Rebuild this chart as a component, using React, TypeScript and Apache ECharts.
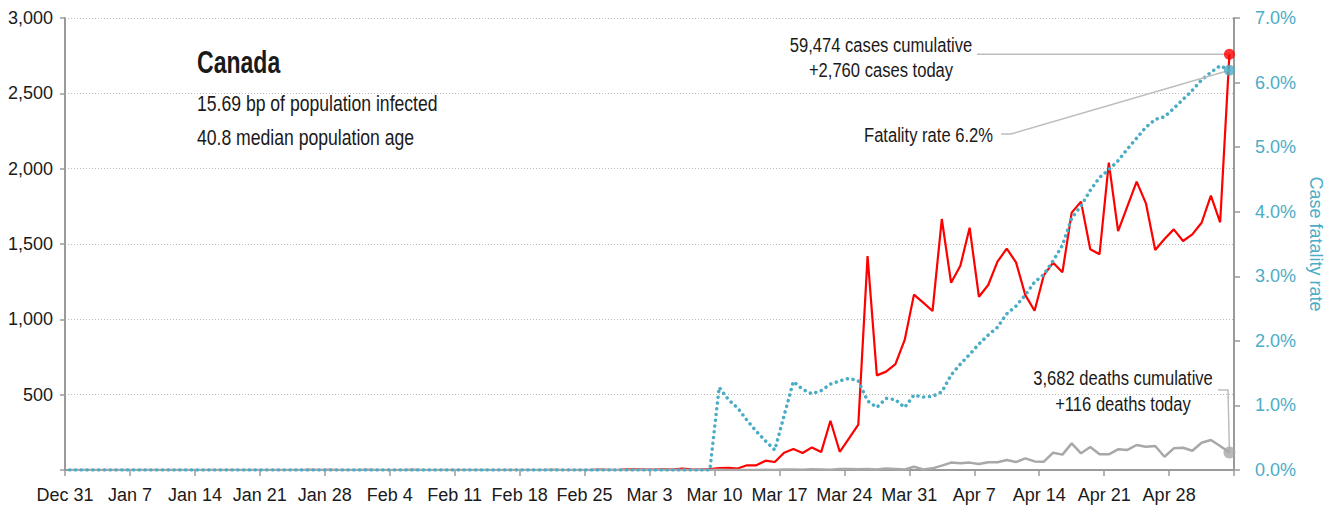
import React, { useEffect, useRef } from 'react';
import * as echarts from 'echarts';

// Tick labels every 7 days starting Dec 31 (day 0)
const TICK_LABELS = [
  'Dec 31', 'Jan 7', 'Jan 14', 'Jan 21', 'Jan 28', 'Feb 4', 'Feb 11', 'Feb 18', 'Feb 25',
  'Mar 3', 'Mar 10', 'Mar 17', 'Mar 24', 'Mar 31', 'Apr 7', 'Apr 14', 'Apr 21', 'Apr 28',
];

// Daily new cases, Dec 31 .. May 4 (one row per week)
const CASES = [
  0, 0, 0, 0, 0, 0, 0,
  0, 0, 0, 0, 0, 0, 0,
  0, 0, 0, 0, 0, 0, 0,
  0, 0, 0, 0, 0, 1, 0,
  1, 0, 0, 0, 1, 0, 0,
  0, 0, 1, 0, 0, 0, 0,
  0, 0, 0, 0, 0, 0, 0,
  0, 0, 0, 1, 0, 0, 0,
  0, 2, 1, 0, 4, 4, 3,
  3, 5, 3, 9, 5, 2, 6,
  12, 15, 10, 31, 31, 62, 53,
  115, 139, 113, 150, 119, 327, 121,
  210, 301, 1420, 628, 653, 703, 863,
  1164, 1111, 1055, 1666, 1243, 1356, 1608,
  1150, 1228, 1383, 1469, 1378, 1161, 1057,
  1294, 1376, 1312, 1708, 1781, 1465, 1432,
  2040, 1586, 1750, 1914, 1770, 1460, 1533,
  1597, 1520, 1564, 1641, 1821, 1644, 2760,
];

// Daily new deaths
const DEATHS = [
  0, 0, 0, 0, 0, 0, 0,
  0, 0, 0, 0, 0, 0, 0,
  0, 0, 0, 0, 0, 0, 0,
  0, 0, 0, 0, 0, 0, 0,
  0, 0, 0, 0, 0, 0, 0,
  0, 0, 0, 0, 0, 0, 0,
  0, 0, 0, 0, 0, 0, 0,
  0, 0, 0, 0, 0, 0, 0,
  0, 0, 0, 0, 0, 0, 0,
  0, 0, 0, 0, 0, 0, 0,
  1, 0, 0, 0, 0, 1, 0,
  3, 4, 1, 5, 4, 2, 7,
  6, 5, 6, 4, 10, 7, 3,
  22, 4, 11, 29, 49, 44, 49,
  40, 51, 51, 66, 53, 77, 57,
  55, 115, 102, 177, 111, 153, 104,
  104, 137, 133, 166, 155, 159, 88,
  144, 148, 128, 181, 199, 159, 116,
];

// Case fatality rate, %
const CFR = [
  0, 0, 0, 0, 0, 0, 0,
  0, 0, 0, 0, 0, 0, 0,
  0, 0, 0, 0, 0, 0, 0,
  0, 0, 0, 0, 0, 0, 0,
  0, 0, 0, 0, 0, 0, 0,
  0, 0, 0, 0, 0, 0, 0,
  0, 0, 0, 0, 0, 0, 0,
  0, 0, 0, 0, 0, 0, 0,
  0, 0, 0, 0, 0, 0, 0,
  0, 0, 0, 0, 0, 0, 0,
  1.28, 1.09, 0.96, 0.77, 0.6, 0.45, 0.31,
  0.84, 1.37, 1.25, 1.18, 1.23, 1.33, 1.38,
  1.42, 1.38, 1.07, 0.97, 1.11, 1.09, 0.97,
  1.16, 1.13, 1.14, 1.21, 1.47, 1.64, 1.79,
  1.95, 2.09, 2.21, 2.42, 2.54, 2.71, 2.91,
  3.03, 3.24, 3.48, 3.9, 4.09, 4.33, 4.53,
  4.65, 4.79, 4.97, 5.14, 5.31, 5.43, 5.47,
  5.6, 5.74, 5.88, 6.04, 6.16, 6.26, 6.19,
];

const COUNTRY = 'Canada';
const INFO_LINES = ['15.69 bp of population infected', '40.8 median population age'];
const TOTAL_CASES = 59474;
const TOTAL_DEATHS = 3682;

const FONT = "'Liberation Sans', Arial, sans-serif";
const RED = '#ff0000';
const TEAL = '#4bacc6';
const GRAY = '#a8a8a8';
const AXIS = '#9a9a9a';
const TEXT = '#1a1a1a';
const DAY_OFFSET = 0.5;

const fmt = (n: number) => n.toLocaleString('en-US');

export default function App() {
  const ref = useRef<HTMLDivElement>(null);

  useEffect(() => {
    const chart = echarts.init(ref.current!, null, { renderer: 'svg' });
    const pairs = (arr: number[]) => arr.map((v, i) => [i + DAY_OFFSET, v]);
    const last = CASES.length - 1;
    const lx = last + DAY_OFFSET;

    chart.setOption({
      animation: false,
      backgroundColor: '#ffffff',
      grid: { left: 65, right: 93, top: 18, bottom: 42, containLabel: false },
      xAxis: {
        type: 'value',
        min: 0,
        max: 126,
        interval: 7,
        axisLine: { show: true, lineStyle: { color: AXIS, width: 2 } },
        axisTick: { show: true, length: 6, lineStyle: { color: AXIS, width: 1.5 } },
        axisLabel: {
          formatter: (v: number) => TICK_LABELS[Math.round(v / 7)] ?? '',
          color: TEXT,
          fontSize: 18,
          fontFamily: FONT,
          margin: 16,
        },
        splitLine: { show: false },
      },
      yAxis: [
        {
          type: 'value',
          min: 0,
          max: 3000,
          interval: 500,
          position: 'left',
          axisLine: { show: true, lineStyle: { color: AXIS, width: 2 } },
          axisTick: { show: true, length: 5, lineStyle: { color: AXIS, width: 1.5 } },
          axisLabel: {
            formatter: (v: number) => (v === 0 ? '' : fmt(v)),
            color: TEXT,
            fontSize: 18,
            fontFamily: FONT,
            margin: 12,
          },
          splitLine: { show: true, lineStyle: { color: '#bbbbbb', width: 1, type: [1, 2] } },
        },
        {
          type: 'value',
          min: 0,
          max: 7,
          interval: 1,
          position: 'right',
          name: 'Case fatality rate',
          nameLocation: 'middle',
          nameRotate: -90,
          nameGap: 50,
          nameTextStyle: { color: TEAL, fontSize: 18, fontFamily: FONT },
          axisLine: { show: true, lineStyle: { color: AXIS, width: 2 } },
          axisTick: { show: true, length: 6, lineStyle: { color: AXIS, width: 1.5 } },
          axisLabel: {
            formatter: (v: number) => v.toFixed(1) + '%',
            color: TEAL,
            fontSize: 18,
            fontFamily: FONT,
            margin: 21,
          },
          splitLine: { show: false },
        },
      ],
      series: [
        {
          name: 'Cases',
          type: 'line',
          yAxisIndex: 0,
          data: pairs(CASES),
          showSymbol: false,
          symbol: 'none',
          lineStyle: { color: RED, width: 2.2 },
          z: 3,
        },
        {
          name: 'Deaths',
          type: 'line',
          yAxisIndex: 0,
          data: pairs(DEATHS),
          showSymbol: false,
          symbol: 'none',
          lineStyle: { color: GRAY, width: 2.5 },
          z: 3,
        },
        {
          name: 'CFR',
          type: 'line',
          yAxisIndex: 1,
          data: pairs(CFR),
          showSymbol: false,
          symbol: 'none',
          lineStyle: { color: TEAL, width: 3.5, type: [0.1, 5.7], cap: 'round' },
          z: 4,
        },
        {
          type: 'scatter',
          yAxisIndex: 0,
          data: [[lx, CASES[last]]],
          symbolSize: 11,
          itemStyle: { color: RED },
          z: 6,
        },
        {
          type: 'scatter',
          yAxisIndex: 0,
          data: [[lx, DEATHS[last]]],
          symbolSize: 12,
          itemStyle: { color: GRAY },
          z: 6,
        },
        {
          type: 'scatter',
          yAxisIndex: 1,
          data: [[lx, CFR[last]]],
          symbolSize: 11,
          itemStyle: { color: TEAL },
          z: 6,
        },
      ],
    });

    const pCase = chart.convertToPixel({ seriesIndex: 0 }, [lx, CASES[last]]) as number[];
    const pDeath = chart.convertToPixel({ seriesIndex: 1 }, [lx, DEATHS[last]]) as number[];
    const pCfr = chart.convertToPixel({ seriesIndex: 2 }, [lx, CFR[last]]) as number[];

    const lead = { stroke: '#bdbdbd', lineWidth: 1.5, fill: null };
    const txt = (
      x: number, y: number, text: string, size: number, align: string, sx = 0.79, weight = 'normal',
    ) => ({
      type: 'text',
      x,
      y,
      scaleX: sx,
      z: 10,
      style: {
        text,
        fill: TEXT,
        font: `${weight} ${size}px ${FONT}`,
        textAlign: align,
        textVerticalAlign: 'middle',
        verticalAlign: 'middle',
      },
    });

    chart.setOption({
      graphic: [
        txt(197, 62, COUNTRY, 32, 'left', 0.72, 'bold'),
        txt(197, 103, INFO_LINES[0], 22, 'left', 0.8),
        txt(197, 137, INFO_LINES[1], 22, 'left', 0.8),
        txt(881, 45, `${fmt(TOTAL_CASES)} cases cumulative`, 21, 'center'),
        txt(881, 70, `+${fmt(CASES[last])} cases today`, 21, 'center'),
        txt(993, 135, `Fatality rate ${(Math.round((TOTAL_DEATHS / TOTAL_CASES) * 1000) / 10).toFixed(1)}%`, 21, 'right'),
        txt(1123, 378, `${fmt(TOTAL_DEATHS)} deaths cumulative`, 21, 'center'),
        txt(1123, 404, `+${fmt(DEATHS[last])} deaths today`, 21, 'center'),
        {
          type: 'polyline',
          z: 5,
          shape: { points: [[977, pCase[1]], [pCase[0], pCase[1]]] },
          style: lead,
        },
        {
          type: 'polyline',
          z: 5,
          shape: { points: [[1001, 134], [1011, 134], [pCfr[0], pCfr[1]]] },
          style: lead,
        },
        {
          type: 'polyline',
          z: 5,
          shape: { points: [[1218, 390], [1228, 390], [pDeath[0], pDeath[1]]] },
          style: lead,
        },
      ],
    });

    return () => chart.dispose();
  }, []);

  return (
    <div
      ref={ref}
      style={{ position: 'absolute', left: 0, top: 0, width: 1333, height: 512, background: '#fff' }}
    />
  );
}
